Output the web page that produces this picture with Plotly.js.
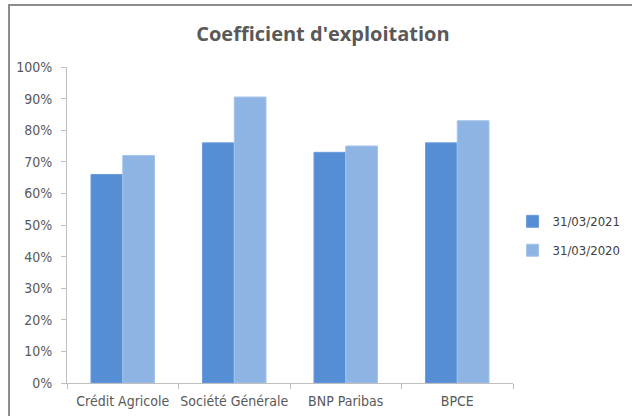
<!DOCTYPE html>
<html>
<head>
<meta charset="utf-8">
<script src="https://cdn.plot.ly/plotly-3.0.1.min.js"></script>
<style>
html,body{margin:0;padding:0;background:#fff;width:632px;height:416px;overflow:hidden;}
#frame{position:absolute;left:8px;top:4px;width:640px;height:440px;border-left:2px solid #8c8c8c;border-top:2px solid #8c8c8c;box-sizing:border-box;}
#chart{position:absolute;left:0;top:0;width:632px;height:416px;}
</style>
</head>
<body>
<div id="frame"></div>
<div id="chart"></div>
<script>
const categories = ["Crédit Agricole", "Société Générale", "BNP Paribas", "BPCE"];
const seriesNames = ["31/03/2021", "31/03/2020"];
const values2021 = [0.66, 0.76, 0.73, 0.76];
const values2020 = [0.72, 0.905, 0.75, 0.83];
const yTickVals = [0, 0.1, 0.2, 0.3, 0.4, 0.5, 0.6, 0.7, 0.8, 0.9, 1.0];
const yTickText = ["0%", "10%", "20%", "30%", "40%", "50%", "60%", "70%", "80%", "90%", "100%"];

const font = "'Liberation Sans Narrow', 'DejaVu Sans Condensed', Lato, sans-serif";
const titleFont = "'Open Sans', Lato, sans-serif";
const traces = [
  {type: "bar", name: seriesNames[0], x: categories, y: values2021, legendgroup: "g1",
   marker: {color: "#558ED5", line: {color: "#6C9EDC", width: 1}}},
  {type: "bar", name: seriesNames[1], x: categories, y: values2020, legendgroup: "g2",
   marker: {color: "#8EB4E3", line: {color: "#A6C4EA", width: 1}}}
];
const layout = {
  width: 632, height: 416,
  paper_bgcolor: "rgba(0,0,0,0)", plot_bgcolor: "rgba(0,0,0,0)",
  margin: {l: 67, r: 119, t: 67, b: 33, autoexpand: false},
  barmode: "group", bargap: 0.43, bargroupgap: 0,
  title: {text: "<b>Coefficient d'exploitation</b>", x: 0.511, xref: "container", xanchor: "center",
          y: 0.918, yanchor: "middle",
          font: {family: titleFont, size: 20, color: "#595959"}},
  xaxis: {type: "category", showline: true, linecolor: "#BFBFBF", linewidth: 1,
          ticks: "outside", tickson: "boundaries", ticklen: 5, tickcolor: "#BFBFBF", tickangle: 0,
          ticklabelstandoff: 5,
          tickfont: {family: font, size: 14, color: "#595959"}, showgrid: false, zeroline: false},
  yaxis: {range: [0, 1.0], tickvals: yTickVals, ticktext: yTickText, showline: true,
          linecolor: "#BFBFBF", linewidth: 1, ticks: "outside", ticklen: 5, tickcolor: "#BFBFBF",
          ticklabelstandoff: 6,
          tickfont: {family: font, size: 14, color: "#595959"}, showgrid: false, zeroline: false},
  legend: {xref: "container", x: 0.811, xanchor: "left", yref: "container", y: 0.433, yanchor: "middle",
           traceorder: "grouped", tracegroupgap: 9,
           font: {family: font, size: 13, color: "#404040"}, itemwidth: 30},
  showlegend: true
};
Plotly.newPlot("chart", traces, layout, {displayModeBar: false, staticPlot: true});
</script>
</body>
</html>
